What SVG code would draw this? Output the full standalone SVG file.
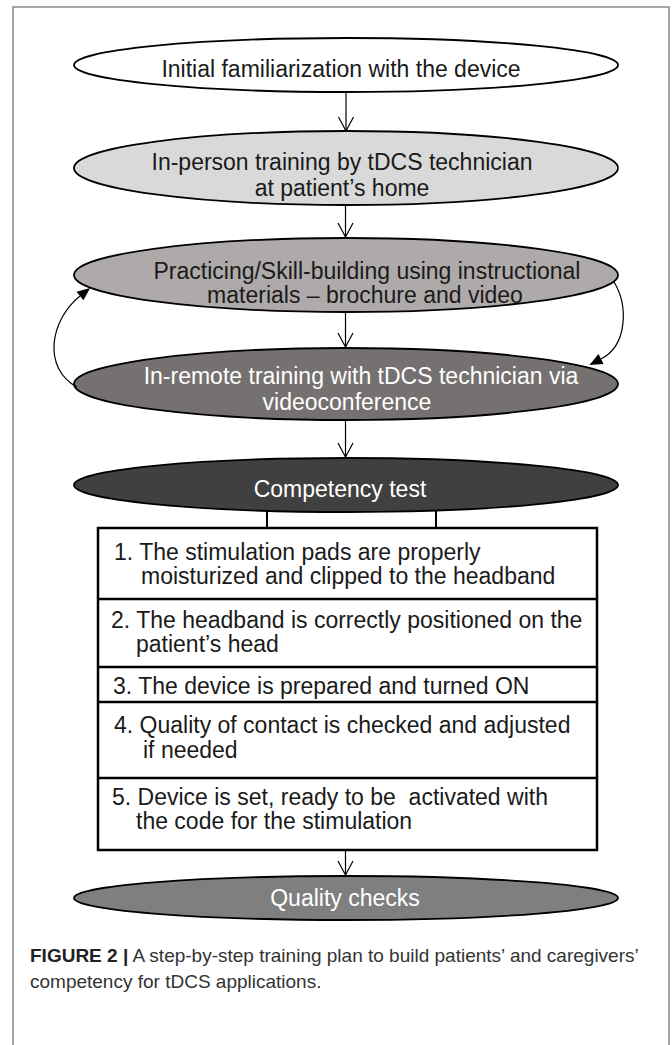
<svg xmlns="http://www.w3.org/2000/svg" width="672" height="1045" viewBox="0 0 672 1045">
<style>
  .t { font-family: "Liberation Sans", Arial, sans-serif; font-size: 23px; }
  .dk { fill: #1a1a1a; }
  .wt { fill: #ffffff; }
  .el { stroke: #000; stroke-width: 1.8; }
  .conn { stroke: #000; stroke-width: 1.2; fill: none; }
  .tie { stroke: #000; stroke-width: 2; fill: none; }
  .box { fill: #ffffff; stroke: #000; stroke-width: 2.5; }
  .sep { stroke: #000; stroke-width: 2.5; }
  .cap { font-family: "Liberation Sans", Arial, sans-serif; font-size: 19px; fill: #333; }
</style>
<defs>
  <marker id="vhead" markerUnits="userSpaceOnUse" markerWidth="20" markerHeight="20" refX="0" refY="0" orient="auto" overflow="visible">
    <path d="M-14,-7.5 L0,0 L-14,7.5" fill="none" stroke="#000" stroke-width="1.2"/>
  </marker>
  <marker id="fhead" markerUnits="userSpaceOnUse" markerWidth="16" markerHeight="16" refX="0" refY="0" orient="auto" overflow="visible">
    <path d="M0,-5.5 L13,0 L0,5.5 z" fill="#000"/>
  </marker>
</defs>
<rect x="0" y="0" width="672" height="1045" fill="#fff"/>
<path d="M13,1045 V7 H669 V1045" fill="none" stroke="#8a8a8a" stroke-width="1.5"/>

<g id="n1">
  <ellipse class="el" cx="346" cy="65" rx="272" ry="27" fill="#ffffff"/>
  <text class="t dk" x="341" y="77" text-anchor="middle">Initial familiarization with the device</text>
</g>
<g id="n2">
  <ellipse class="el" cx="346" cy="168" rx="272" ry="37" fill="#d9d9d9"/>
  <text class="t dk" text-anchor="middle"><tspan x="342" y="170">In-person training by tDCS technician</tspan><tspan x="342" y="196">at patient’s home</tspan></text>
</g>
<g id="n3">
  <ellipse class="el" cx="346" cy="275" rx="272" ry="37" fill="#aeaaaa"/>
  <text class="t dk" text-anchor="middle"><tspan x="367" y="279">Practicing/Skill-building using instructional</tspan><tspan x="365" y="303">materials – brochure and video</tspan></text>
</g>
<g id="n4">
  <ellipse class="el" cx="346" cy="384" rx="272" ry="36" fill="#767171"/>
  <text class="t wt" text-anchor="middle"><tspan x="361" y="384">In-remote training with tDCS technician via</tspan><tspan x="347" y="410">videoconference</tspan></text>
</g>
<g id="n5">
  <ellipse class="el" cx="346" cy="485" rx="272" ry="27" fill="#404040"/>
  <text class="t wt" x="340" y="497" text-anchor="middle">Competency test</text>
</g>
<g id="checklist">
  <rect class="box" x="98" y="528" width="499" height="322"/>
  <line class="sep" x1="98" y1="599" x2="597" y2="599"/>
  <line class="sep" x1="98" y1="667" x2="597" y2="667"/>
  <line class="sep" x1="98" y1="702" x2="597" y2="702"/>
  <line class="sep" x1="98" y1="778" x2="597" y2="778"/>
  <g id="row1">
    <text class="t dk"><tspan x="114" y="560">1. The stimulation pads are properly</tspan><tspan x="141" y="584">moisturized and clipped to the headband</tspan></text>
  </g>
  <g id="row2">
    <text class="t dk"><tspan x="111" y="628">2. The headband is correctly positioned on the</tspan><tspan x="136" y="652">patient’s head</tspan></text>
  </g>
  <g id="row3">
    <text class="t dk" x="113" y="694">3. The device is prepared and turned ON</text>
  </g>
  <g id="row4">
    <text class="t dk"><tspan x="114" y="733">4. Quality of contact is checked and adjusted</tspan><tspan x="143" y="758">if needed</tspan></text>
  </g>
  <g id="row5">
    <text class="t dk" xml:space="preserve"><tspan x="112" y="805">5. Device is set, ready to be  activated with</tspan><tspan x="136" y="829">the code for the stimulation</tspan></text>
  </g>
</g>
<g id="n6">
  <ellipse class="el" cx="346" cy="898" rx="272" ry="22" fill="#7f7f7f"/>
  <text class="t wt" x="345" y="906" text-anchor="middle">Quality checks</text>
</g>

<g id="connectors">
  <line class="conn" x1="346" y1="93" x2="346" y2="131" marker-end="url(#vhead)"/>
  <line class="conn" x1="345.5" y1="206" x2="345.5" y2="237" marker-end="url(#vhead)"/>
  <line class="conn" x1="345.5" y1="313" x2="345.5" y2="347" marker-end="url(#vhead)"/>
  <line class="conn" x1="345.5" y1="421" x2="345.5" y2="457" marker-end="url(#vhead)"/>
  <line class="conn" x1="345.5" y1="851" x2="345.5" y2="875" marker-end="url(#vhead)"/>
  <path class="conn" d="M77,387 C42,368 50,320 80,296" marker-end="url(#fhead)"/>
  <path class="conn" d="M614,282 C628,305 628,345 601,359" marker-end="url(#fhead)"/>
  <line class="tie" x1="267" y1="511" x2="267" y2="528"/>
  <line class="tie" x1="436" y1="511" x2="436" y2="528"/>
</g>

<g id="caption">
  <text class="cap"><tspan x="30" y="962"><tspan font-weight="bold" fill="#222">FIGURE 2 |</tspan> A step-by-step training plan to build patients’ and caregivers’</tspan><tspan x="30" y="988">competency for tDCS applications.</tspan></text>
</g>
</svg>
